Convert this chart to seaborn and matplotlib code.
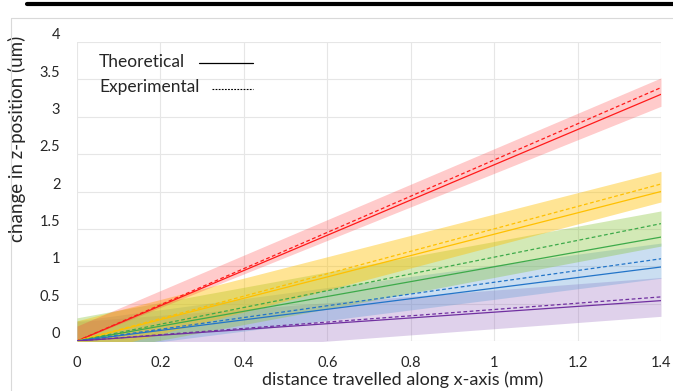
import numpy as np
import pandas as pd
import matplotlib
matplotlib.use("Agg")
import matplotlib.pyplot as plt
import matplotlib.transforms as mtransforms
from matplotlib.lines import Line2D
import seaborn as sns

# ---------------- data ----------------
x_mm = [0.0, 1.4]

series = ["red", "yellow", "green", "blue", "purple"]

theo_red = [0.0, 3.30]
exp_red = [0.0, 3.39]
theo_yellow = [0.0, 2.00]
exp_yellow = [0.0, 2.10]
theo_green = [0.0, 1.39]
exp_green = [0.0, 1.57]
theo_blue = [0.0, 0.99]
exp_blue = [0.0, 1.10]
theo_purple = [0.0, 0.54]
exp_purple = [0.0, 0.59]

band_lo_red = [0.00, 3.14]
band_hi_red = [0.20, 3.52]
band_lo_yellow = [-0.20, 1.86]
band_hi_yellow = [0.27, 2.27]
band_lo_green = [-0.20, 1.27]
band_hi_green = [0.31, 1.74]
band_lo_blue = [-0.15, 0.84]
band_hi_blue = [0.27, 1.31]
band_lo_purple = [-0.25, 0.33]
band_hi_purple = [0.26, 0.85]

x_ticks = [0, 0.2, 0.4, 0.6, 0.8, 1.0, 1.2, 1.4]
x_tick_labels = ["0", "0.2", "0.4", "0.6", "0.8", "1", "1.2", "1.4"]
y_ticks = [0, 0.5, 1, 1.5, 2, 2.5, 3, 3.5, 4]
y_tick_labels = ["0", "0.5", "1", "1.5", "2", "2.5", "3", "3.5", "4"]

theo = {"red": theo_red, "yellow": theo_yellow, "green": theo_green,
        "blue": theo_blue, "purple": theo_purple}
expv = {"red": exp_red, "yellow": exp_yellow, "green": exp_green,
        "blue": exp_blue, "purple": exp_purple}
band_lo = {"red": band_lo_red, "yellow": band_lo_yellow, "green": band_lo_green,
           "blue": band_lo_blue, "purple": band_lo_purple}
band_hi = {"red": band_hi_red, "yellow": band_hi_yellow, "green": band_hi_green,
           "blue": band_hi_blue, "purple": band_hi_purple}

line_colors = {"red": "#FF1A1A", "yellow": "#FFC000", "green": "#3DAA4A",
               "blue": "#2274C8", "purple": "#7030A0"}
fill_colors = {"red": ("#FF3030", 0.25), "yellow": ("#FFC000", 0.42),
               "green": ("#8CC63F", 0.38), "blue": ("#5B9BD5", 0.32),
               "purple": ("#8E5CB8", 0.28)}

# long-form frame for seaborn
rows = []
for s in series:
    for xv, tv, ev in zip(x_mm, theo[s], expv[s]):
        rows.append({"x": xv, "y": tv, "series": s, "kind": "Theoretical"})
        rows.append({"x": xv, "y": ev, "series": s, "kind": "Experimental"})
df = pd.DataFrame(rows)

# ---------------- styling ----------------
sns.set_style("white")
plt.rcParams["font.family"] = ["Lato", "DejaVu Sans"]
plt.rcParams["text.color"] = "#262626"

fig = plt.figure(figsize=(6.73, 3.91), dpi=100)
W, H = 673, 391
ax = fig.add_axes([77 / W, (H - 341) / H, 584 / W, 299 / H])

# bands
for s in ["purple", "blue", "green", "yellow", "red"]:
    c, a = fill_colors[s]
    ax.fill_between(x_mm, band_lo[s], band_hi[s], color=c, alpha=a,
                    linewidth=0, zorder=1)

# lines
for s in series:
    sub = df[df["series"] == s]
    sns.lineplot(data=sub[sub["kind"] == "Theoretical"], x="x", y="y", ax=ax,
                 color=line_colors[s], linewidth=0.9, zorder=3,
                 legend=False, errorbar=None)
    l2 = sns.lineplot(data=sub[sub["kind"] == "Experimental"], x="x", y="y", ax=ax,
                      color=line_colors[s], linewidth=0.9, zorder=3,
                      legend=False, errorbar=None)
    l2.lines[-1].set_dashes((3, 2))

ax.set_xlim(0, 1.4)
ax.set_ylim(0, 4)
ax.set_xticks(x_ticks)
ax.set_xticklabels(x_tick_labels)
ax.set_yticks(y_ticks)
ax.set_yticklabels(y_tick_labels)
ax.grid(True, color="#E6E6E6", linewidth=0.8, zorder=0)
ax.set_axisbelow(True)
for sp in ax.spines.values():
    sp.set_visible(False)
ax.tick_params(axis="both", length=0, labelsize=10.5, colors="#262626")
ax.tick_params(axis="x", pad=10.5)
ax.tick_params(axis="y", pad=12)

off = mtransforms.ScaledTranslation(0, 6 / 72, fig.dpi_scale_trans)
for lab in ax.get_yticklabels():
    lab.set_transform(lab.get_transform() + off)

ax.set_xlabel("distance travelled along x-axis (mm)", fontsize=13,
              color="#262626", va="center")
ax.set_ylabel("change in z-position (um)", fontsize=13.5, color="#262626",
              va="center")
ax.xaxis.set_label_coords((403 - 77) / 584, (341 - 380) / 299)
ax.yaxis.set_label_coords((17 - 77) / 584, (341 - 139) / 299)

# legend (text with line samples)
fig.text(99 / W, 1 - 62 / H, "Theoretical", fontsize=12.5, va="center", ha="left")
fig.text(99 / W, 1 - 87 / H, "Experimental", fontsize=12.5, va="center", ha="left")
fig.add_artist(Line2D([199 / W, 253 / W], [1 - 63 / H] * 2, color="black",
                      linewidth=0.9, transform=fig.transFigure))
fig.add_artist(Line2D([212 / W, 253 / W], [1 - 89 / H] * 2, color="black",
                      linewidth=0.8, dashes=(1.6, 1.2), transform=fig.transFigure))

# decorative frame lines
fig.add_artist(Line2D([27 / W, 1], [1 - 4 / H] * 2, color="black",
                      linewidth=3, transform=fig.transFigure))
fig.add_artist(Line2D([11 / W, 1], [1 - 18 / H] * 2, color="#D9D9D9",
                      linewidth=0.8, transform=fig.transFigure))
fig.add_artist(Line2D([11 / W, 11 / W], [0, 1 - 18 / H], color="#D9D9D9",
                      linewidth=0.8, transform=fig.transFigure))

fig.savefig("out.png", dpi=100)
